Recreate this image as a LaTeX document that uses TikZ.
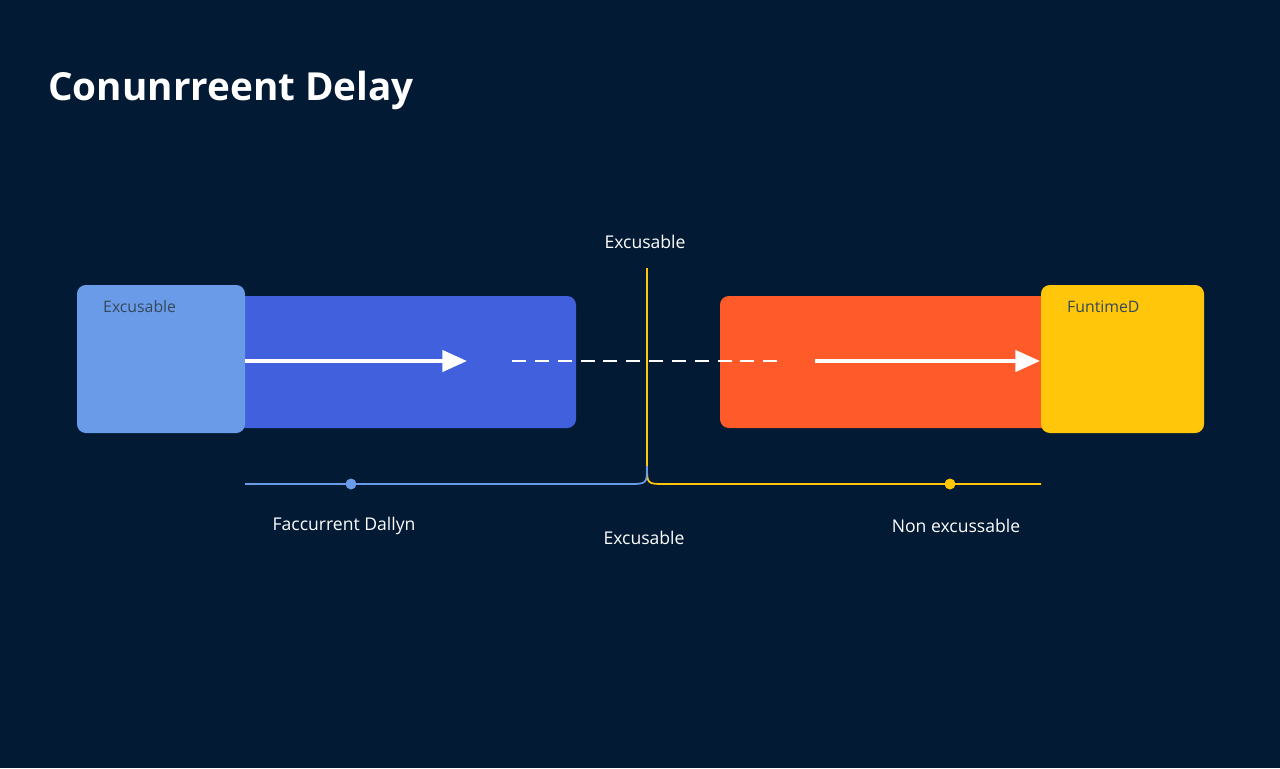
\documentclass[tikz,border=0pt]{standalone}
\usepackage{fontspec}
\setmainfont{Open Sans}
\usetikzlibrary{arrows.meta}
\definecolor{bgnavy}{HTML}{021A33}
\definecolor{lightblue}{HTML}{6A9BE8}
\definecolor{midblue}{HTML}{4060DD}
\definecolor{orangebox}{HTML}{FF5A2A}
\definecolor{yellowbox}{HTML}{FFC60A}
\tikzset{
  box/.style={rounded corners=5pt, draw=none},
  lbl/.style={text=white, font=\fontsize{10}{12}\selectfont},
  arr/.style={white, line width=2.2pt, -{Triangle[length=14pt,width=12pt]}},
}
\begin{document}
\begin{tikzpicture}[x=0.02cm, y=-0.02cm]
  \fill[bgnavy] (0,0) rectangle (1280,768);
  \useasboundingbox (0,0) rectangle (1280,768);
  \node[anchor=base west, inner sep=0pt, text=white, font=\fontsize{22}{26}\selectfont\bfseries] (title) at (48,100) {Conunrreent Delay};

  % boxes
  \fill[box, midblue] (235,296) rectangle (576,428);
  \fill[box, lightblue] (77,285) rectangle (245,433);
  \fill[box, orangebox] (720,296) rectangle (1050,428);
  \fill[box, yellowbox] (1041,285) rectangle (1204,433);
  \node[anchor=west, text=bgnavy!80, font=\fontsize{9}{11}\selectfont] (exc) at (97,307) {Excusable};
  \node[anchor=west, text=bgnavy!80, font=\fontsize{9}{11}\selectfont] (fun) at (1061,307) {FuntimeD};

  % arrows
  \coordinate (a1) at (245,361); \coordinate (a2) at (467,361);
  \coordinate (b1) at (815,361); \coordinate (b2) at (1040,361);
  \coordinate (d1) at (512,361); \coordinate (d2) at (778,361);
  \draw[arr] (a1) -- (a2);
  \draw[arr] (b1) -- (b2);
  \draw[white, line width=1pt, dash pattern=on 8pt off 5pt] (d1) -- (d2);

  % timeline
  \coordinate (top) at (647,268);
  \coordinate (tl) at (245,484);
  \coordinate (tr) at (1041,484);
  \draw[yellowbox, line width=1pt] (top) -- (647,466) .. controls (647,484) .. (665,484) -- (tr);
  \draw[lightblue, line width=1pt] (tl) -- (628,484) .. controls (647,484) .. (647,466);
  \fill[lightblue] (351,484) circle (5.5);
  \fill[yellowbox] (950,484) circle (5.5);

  % labels
  \node[lbl] (ltop) at (645,242) {Excusable};
  \node[lbl] (lleft) at (344,526) {Faccurrent Dallyn};
  \node[lbl] (lmid) at (644,538) {Excusable};
  \node[lbl] (lright) at (956,526) {Non excussable};
\end{tikzpicture}
\end{document}
